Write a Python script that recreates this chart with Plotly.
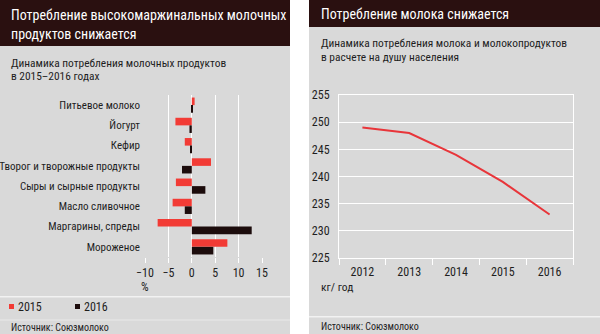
import plotly.graph_objects as go

# ---- data ----
categories = ["Питьевое молоко", "Йогурт", "Кефир", "Творог и творожные продукты",
              "Сыры и сырные продукты", "Масло сливочное", "Маргарины, спреды", "Мороженое"]
values_2015 = [0.6, -3.5, -1.5, 4.1, -3.4, -4.1, -7.3, 7.6]
values_2016 = [0.1, -0.5, -0.3, -2.1, 2.9, -1.5, 12.8, 4.6]
bar_ticks = [-10, -5, 0, 5, 10, 15]

years = ["2012", "2013", "2014", "2015", "2016"]
consumption = [249, 248, 244, 239, 233]
line_ticks = [225, 230, 235, 240, 245, 250, 255]

W, H = 600, 334
FONT = "Roboto Condensed, Liberation Sans Narrow, DejaVu Sans Condensed, sans-serif"
GREY = "#d9d9d9"
DARK = "#2a1010"
RED = "#f23b35"
BLACK = "#1c0c0c"
TXT = "#1e1e1e"

def px(x):
    return x / W

def py(y):
    return 1 - y / H

fig = go.Figure()

fig.add_trace(go.Bar(y=categories, x=values_2015, orientation="h", name="2015",
                     marker=dict(color=RED, line=dict(width=0)),
                     xaxis="x", yaxis="y", showlegend=False))
fig.add_trace(go.Bar(y=categories, x=values_2016, orientation="h", name="2016",
                     marker=dict(color=BLACK, line=dict(width=0)),
                     xaxis="x", yaxis="y", showlegend=False))
fig.add_trace(go.Scatter(x=years, y=consumption, mode="lines",
                         line=dict(color="#e8353a", width=2),
                         xaxis="x2", yaxis="y2", showlegend=False))

shapes = []
def rect(x0, y0, x1, y1, color):
    shapes.append(dict(type="rect", xref="paper", yref="paper", layer="below",
                       x0=px(x0), x1=px(x1), y0=py(y1), y1=py(y0),
                       fillcolor=color, line=dict(width=0)))

# left panel
rect(0, 0, 290, 46, DARK)
rect(0, 46, 290, 334, GREY)
rect(0, 296, 290, 297.5, "#f2f2f2")
rect(0, 319.5, 290, 320.5, "#eaeaea")
# right panel
rect(309, 0, 600, 27, DARK)
rect(309, 27, 600, 334, GREY)
rect(309, 316, 600, 317.5, "#f2f2f2")

annotations = []
def text(x, y, s, size, color=TXT, xanchor="left", yanchor="middle"):
    annotations.append(dict(xref="paper", yref="paper", x=px(x), y=py(y), text=s,
                            showarrow=False, xanchor=xanchor, yanchor=yanchor,
                            align="left", font=dict(family=FONT, size=size, color=color)))

text(9, 15, "Потребление высокомаржинальных молочных", 14, "white")
text(9, 34, "продуктов снижается", 14, "white")
text(9, 63, "Динамика потребления молочных продуктов", 11.4)
text(9, 76, "в 2015–2016 годах", 11.4)
text(145, 287, "%", 12, xanchor="center")
# legend
shapes.append(dict(type="rect", xref="paper", yref="paper", x0=px(9), x1=px(14),
                   y0=py(309), y1=py(304), fillcolor=RED, line=dict(width=0)))
text(16, 306.5, "2015", 12)
shapes.append(dict(type="rect", xref="paper", yref="paper", x0=px(75), x1=px(80),
                   y0=py(309), y1=py(304), fillcolor=BLACK, line=dict(width=0)))
text(82, 306.5, "2016", 12)
text(9, 327, "Источник: Союзмолоко", 10)

text(319, 14, "Потребление молока снижается", 14, "white")
text(319, 43, "Динамика потребления молока и молокопродуктов", 11.4)
text(319, 57, "в расчете на душу населения", 11.4)
text(319, 287, "кг/ год", 11.5)
text(319, 326, "Источник: Союзмолоко", 10)

fig.update_layout(
    width=W, height=H, margin=dict(l=0, r=0, t=0, b=0, autoexpand=False),
    paper_bgcolor="white", plot_bgcolor=GREY,
    barmode="group", bargap=0.25, bargroupgap=0,
    font=dict(family=FONT, size=12, color=TXT),
    shapes=shapes, annotations=annotations,
    xaxis=dict(domain=[px(145), px(262)], range=[-10, 15], tickvals=bar_ticks,
               showgrid=True, gridcolor="white", gridwidth=1, zeroline=False,
               ticks="outside", ticklen=5, tickcolor="white", automargin=False,
               tickfont=dict(size=12, color=TXT), anchor="y"),
    yaxis=dict(domain=[py(257), py(95)], autorange="reversed", showgrid=False,
               zeroline=False, ticks="", ticklabelstandoff=4, automargin=False,
               tickfont=dict(size=11, color=TXT), anchor="x"),
    xaxis2=dict(domain=[px(339), px(573)], type="category", range=[-0.5, 4.5],
                showgrid=False, zeroline=False,
                showline=True, mirror=True, linecolor="white", linewidth=1,
                tickson="boundaries", ticks="outside", ticklen=6, tickcolor="white",
                automargin=False, ticklabelstandoff=3,
                tickfont=dict(size=12, color=TXT), anchor="y2"),
    yaxis2=dict(domain=[py(258), py(95)], range=[225, 255], tickvals=line_ticks,
                showgrid=True, gridcolor="white", gridwidth=1, zeroline=False,
                showline=True, mirror=True, linecolor="white", linewidth=1,
                ticks="", ticklabelstandoff=6, automargin=False,
                tickfont=dict(size=12, color=TXT), anchor="x2"),
)

fig.write_html("out.html")
